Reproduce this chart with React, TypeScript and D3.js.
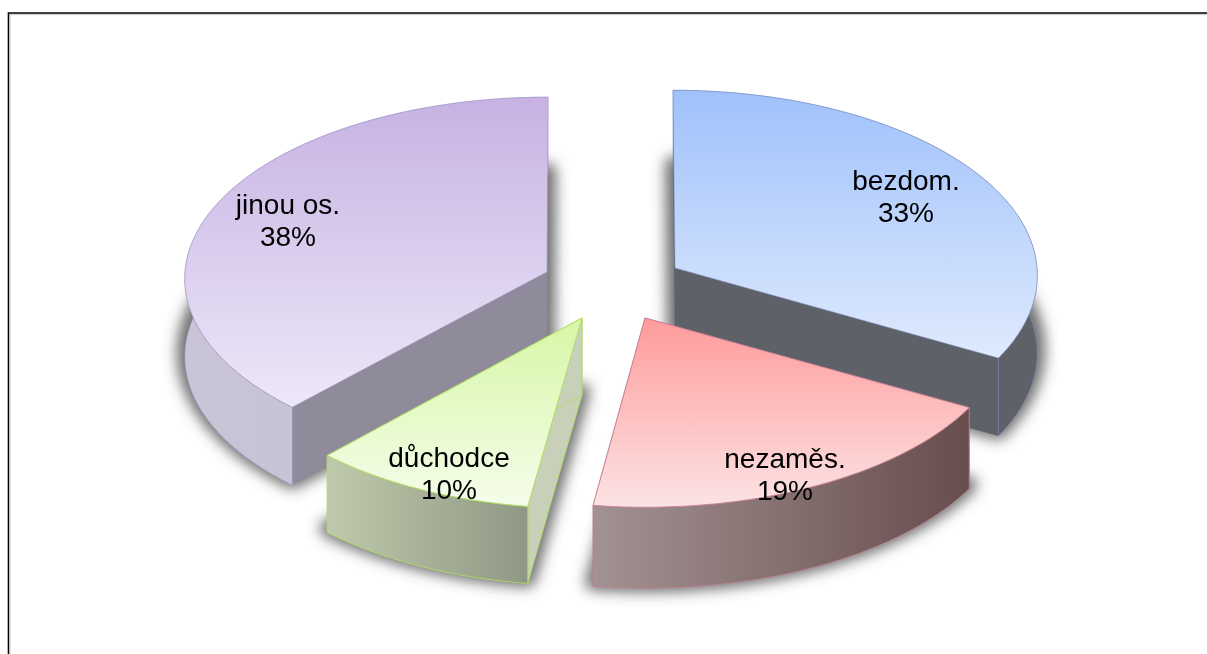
import React from "react";
import * as d3 from "d3";

const categories = ["bezdom.", "nezaměs.", "důchodce", "jinou os."];
const shares = [33, 19.2, 9.8, 38];

// Layout of each exploded wedge (not data)
const layout = [
  { cx: 675, cy: 268, rx: 362, ry: 184, skew: 2, depth: 78, lx: 906, ly: 190, top: ["#9fc1fb", "#dfeafd"], wall: ["#5e6168", "#5e6168"], cut: "#5e6168", stroke: "#7f8fc4", edge: 0.55, cutEdge: false },
  { cx: 645, cy: 318, rx: 364, ry: 183, skew: 0, depth: 81, lx: 785, ly: 468, top: ["#ff9b9b", "#fce3e4"], wall: ["#a39292", "#684d4d"], cut: "#684d4d", stroke: "#c47f95", edge: 0.8, cutEdge: true },
  { cx: 582, cy: 318, rx: 360, ry: 184, skew: -3, depth: 77, lx: 449, ly: 467, top: ["#d6f7a6", "#f5fdeb"], wall: ["#bfc9aa", "#8f9884"], cut: "#c8d0ba", stroke: "#afdc62", edge: 0.9, cutEdge: true },
  { cx: 547, cy: 272, rx: 362, ry: 181, skew: -1, depth: 78, lx: 288, ly: 214, top: ["#c7b2e3", "#ede8f8"], wall: ["#c9c4d6", "#c4bfd2"], cut: "#8f8b9a", stroke: "#9b93c6", edge: 0.55, cutEdge: false },
];
const paintOrder = [3, 0, 1, 2];
const PERSPECTIVE = 0.034;
const LINE_HEIGHT = 32;

const arcs = d3.pie<number>().sort(null).startAngle(0).endAngle(2 * Math.PI)(shares);
const line = d3.line();

type P = [number, number];

function project(i: number, a: number, dy = 0): P {
  const s = layout[i];
  const X = Math.sin(a);
  const Y = -Math.cos(a);
  const p = 1 + PERSPECTIVE * Y;
  return [s.cx + s.rx * X * p + s.skew * Y, s.cy + s.ry * Y * p + dy];
}

function rim(i: number, dy = 0): P[] {
  const { startAngle, endAngle } = arcs[i];
  const n = 60;
  return d3.range(n + 1).map((k) => project(i, startAngle + ((endAngle - startAngle) * k) / n, dy));
}

export default function App() {
  return (
    <svg width={1207} height={654} style={{ position: "fixed", left: 0, top: 0, display: "block", background: "#fff" }}>
      <defs>
        <filter id="blur" x="-20%" y="-20%" width="140%" height="140%">
          <feGaussianBlur stdDeviation="7" />
        </filter>
        {layout.map((s, i) => (
          <React.Fragment key={i}>
            <linearGradient id={`top${i}`} x1="0" y1="0" x2="0" y2="1">
              <stop offset="0" stopColor={s.top[0]} />
              <stop offset="1" stopColor={s.top[1]} />
            </linearGradient>
            <linearGradient id={`wall${i}`} x1="0" y1="0" x2="1" y2="0">
              <stop offset="0" stopColor={s.wall[0]} />
              <stop offset="1" stopColor={s.wall[1]} />
            </linearGradient>
          </React.Fragment>
        ))}
      </defs>

      <path d="M8.5,654V13H1207" fill="none" stroke="#000" strokeWidth={1.6} />
      <path d="M10,654V14.6H1207" fill="none" stroke="#c8c8c8" strokeWidth={1} />

      <g filter="url(#blur)">
        {layout.map((s, i) => {
          const base: P = [s.cx, s.cy + s.depth - 4];
          const d = line([base, ...rim(i, s.depth - 4)]) + "Z";
          return <path key={i} d={d} fill="#4a4a4a" stroke="#4a4a4a" strokeWidth={16} strokeLinejoin="round" opacity={0.8} />;
        })}
      </g>

      {paintOrder.map((i) => {
        const s = layout[i];
        const r = rim(i);
        const rb = rim(i, s.depth);
        const apex: P = [s.cx, s.cy];
        const apexB: P = [s.cx, s.cy + s.depth];
        const first = r[0];
        const last = r[r.length - 1];
        const cutStroke = s.cutEdge ? undefined : "none";
        return (
          <g key={categories[i]} stroke={s.stroke} strokeOpacity={s.edge} strokeWidth={1} strokeLinejoin="round">
            <path d={line([apex, first, rb[0], apexB]) + "Z"} fill={s.cut} stroke={cutStroke} />
            <path d={line([apex, last, rb[rb.length - 1], apexB]) + "Z"} fill={s.cut} stroke={cutStroke} />
            <path d={line([...r, ...rb.slice().reverse()]) + "Z"} fill={`url(#wall${i})`} />
            <path d={line([apex, ...r]) + "Z"} fill={`url(#top${i})`} />
          </g>
        );
      })}

      {layout.map((s, i) => (
        <text key={i} textAnchor="middle" fontFamily="'Liberation Sans', Arial, sans-serif" fontSize={28} fill="#000">
          <tspan x={s.lx} y={s.ly}>{categories[i]}</tspan>
          <tspan x={s.lx} y={s.ly + LINE_HEIGHT}>{`${d3.format(".0f")(shares[i])}%`}</tspan>
        </text>
      ))}
    </svg>
  );
}
